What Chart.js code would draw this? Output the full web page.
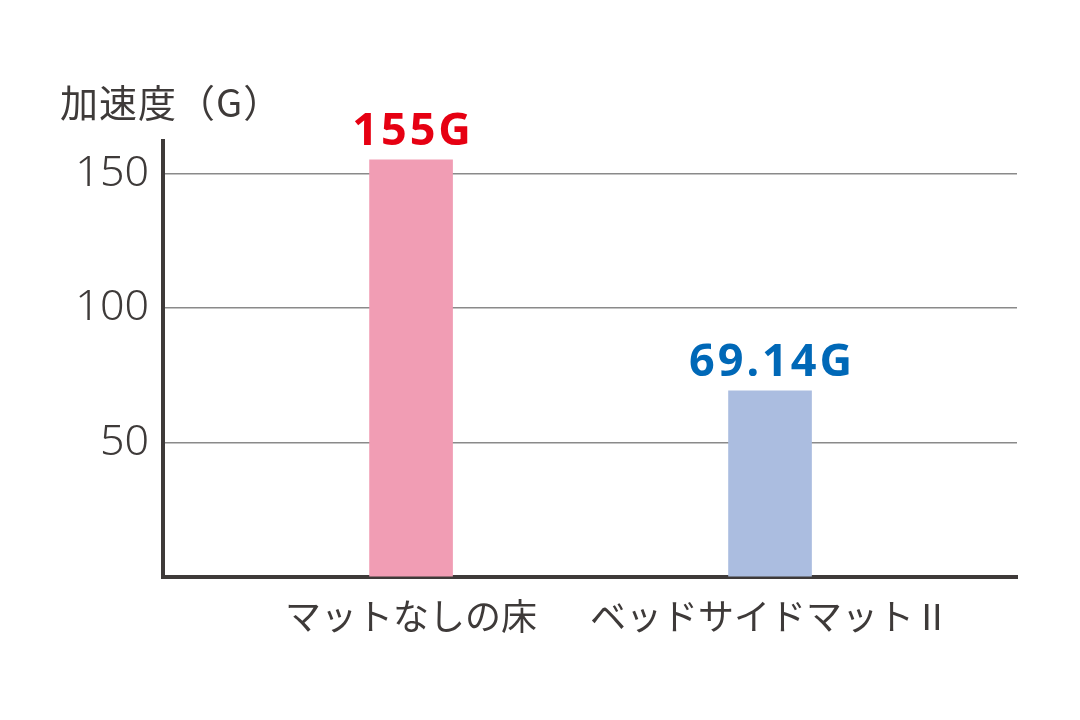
<!DOCTYPE html>
<html>
<head>
<meta charset="utf-8">
<script src="https://cdn.jsdelivr.net/npm/chart.js@4/dist/chart.umd.min.js"></script>
<style>
  html, body { margin: 0; padding: 0; background: #fff; }
  #chart { display: block; }
</style>
</head>
<body>
<canvas id="chart" width="1080" height="720"></canvas>
<script>
const categories = ["マットなしの床", "ベッドサイドマットⅡ"];
const values = [155, 69.14];
const valueLabels = ["155G", "69.14G"];
const barColors = ["#f19db4", "#abbde0"];
const labelColors = ["#e60012", "#0068b7"];
const yTicks = [0, 50, 100, 150];
const yTitle = "加速度（G）";

const dark = "#3e3a39";

// value labels above bars + y axis title
const labelsPlugin = {
  id: "labels",
  afterDraw(chart) {
    const ctx = chart.ctx;
    const meta = chart.getDatasetMeta(0);
    ctx.save();
    ctx.font = "bold 45px 'Noto Sans'";
    ctx.letterSpacing = "3px";
    ctx.textAlign = "center";
    ctx.textBaseline = "alphabetic";
    meta.data.forEach((bar, i) => {
      ctx.fillStyle = labelColors[i];
      ctx.fillText(valueLabels[i], bar.x + 2, bar.y - 15);
    });
    ctx.letterSpacing = "1px";
    ctx.font = "38px 'Noto Sans CJK JP'";
    ctx.fillStyle = dark;
    ctx.textAlign = "left";
    ctx.textBaseline = "middle";
    ctx.fillText(yTitle, 60, 103);
    ctx.restore();
  }
};

new Chart(document.getElementById("chart"), {
  type: "bar",
  data: {
    datasets: [{
      data: values.map((v, i) => ({ x: i + 1, y: v })),
      backgroundColor: barColors,
      barThickness: 83,
      borderWidth: 0
    }]
  },
  options: {
    responsive: false,
    animation: false,
    layout: { padding: { top: 141, right: 63, left: 0, bottom: 0 } },
    plugins: { legend: { display: false }, tooltip: { enabled: false } },
    scales: {
      x: {
        type: "linear",
        offset: false,
        min: 0.309,
        max: 2.688,
        afterBuildTicks: (s) => { s.ticks = [{ value: 1 }, { value: 2 }]; },
        afterFit: (s) => { s.height = 143; },
        grid: { display: false, offset: false },
        border: { display: true, width: 4, color: dark },
        ticks: {
          padding: 10,
          color: dark,
          font: { family: "'Noto Sans CJK JP'", size: 36 },
          callback: (v) => categories[v - 1]
        }
      },
      y: {
        min: 0,
        max: 162,
        afterBuildTicks: (s) => { s.ticks = yTicks.map(v => ({ value: v })); },
        afterFit: (s) => { s.width = 163; },
        grid: {
          drawTicks: false,
          lineWidth: 1.5,
          color: (c) => c.tick && c.tick.value === 0 ? "rgba(0,0,0,0)" : "#8a8a8a"
        },
        border: { display: true, width: 4, color: dark },
        ticks: {
          padding: 14,
          color: dark,
          font: { family: "'Noto Sans'", size: 43, weight: 300 },
          callback: (v) => v === 0 ? "" : String(v)
        }
      }
    }
  },
  plugins: [labelsPlugin]
});
</script>
</body>
</html>
